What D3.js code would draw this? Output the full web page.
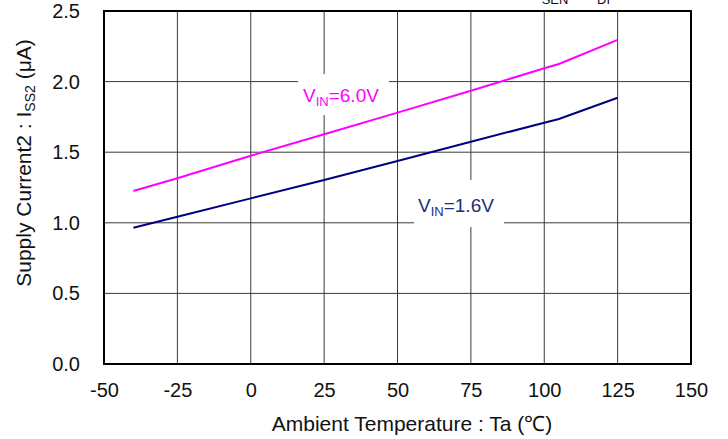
<!DOCTYPE html>
<html>
<head>
<meta charset="utf-8">
<script src="https://cdn.jsdelivr.net/npm/d3@7"></script>
<style>
  html, body { margin: 0; padding: 0; background: #fff; }
  svg { display: block; font-family: "Liberation Sans", Arial, sans-serif; }
</style>
</head>
<body>
<div id="chart"></div>
<script>
// measured points (deg C / uA)
var temps = [-40, -25, 0, 25, 50, 75, 100, 105, 125];
var iss_6v0 = [1.225, 1.315, 1.475, 1.627, 1.78, 1.935, 2.094, 2.125, 2.295];
var iss_1v6 = [0.965, 1.043, 1.173, 1.303, 1.438, 1.574, 1.709, 1.735, 1.886];

var xTicks = [-50, -25, 0, 25, 50, 75, 100, 125, 150];
var yTicks = [0, 0.5, 1.0, 1.5, 2.0, 2.5];

var width = 728, height = 439;
var margin = { top: 11, right: 37, bottom: 75, left: 104 };
var w = width - margin.left - margin.right,
	h = height - margin.top - margin.bottom;

var svg = d3.select("#chart").append("svg")
	.attr("width", width)
	.attr("height", height);

var g = svg.append("g")
	.attr("transform", "translate(" + margin.left + "," + margin.top + ")");

var x = d3.scaleLinear().domain([-50, 150]).range([0, w]);
var y = d3.scaleLinear().domain([0, 2.5]).range([h, 0]);

// grid
g.append("g").selectAll("line.vg")
	.data(xTicks.slice(1, -1))
	.enter().append("line")
	.attr("x1", function (d) { return x(d); })
	.attr("x2", function (d) { return x(d); })
	.attr("y1", 0).attr("y2", h)
	.attr("stroke", "#3a3a3a").attr("stroke-width", 1);

g.append("g").selectAll("line.hg")
	.data(yTicks.slice(1, -1))
	.enter().append("line")
	.attr("y1", function (d) { return y(d); })
	.attr("y2", function (d) { return y(d); })
	.attr("x1", 0).attr("x2", w)
	.attr("stroke", "#3a3a3a").attr("stroke-width", 1);

// axes (labels only, frame drawn below)
var xAxis = g.append("g")
	.attr("transform", "translate(0," + h + ")")
	.call(d3.axisBottom(x).tickValues(xTicks).tickSize(0).tickPadding(18.5)
		.tickFormat(function (d) { return String(d); }));
var yAxis = g.append("g")
	.call(d3.axisLeft(y).tickValues(yTicks).tickSize(0).tickPadding(24).tickFormat(d3.format(".1f")));

[xAxis, yAxis].forEach(function (a) {
	a.select(".domain").remove();
	a.selectAll("text")
		.attr("font-family", "Liberation Sans, Arial, sans-serif")
		.attr("font-size", 20)
		.attr("fill", "#111");
});

// series labels with white boxes over the grid
function seriesLabel(bx, by, bw, bh, tx, ty, val, color) {
	g.append("rect")
		.attr("x", bx - margin.left).attr("y", by - margin.top)
		.attr("width", bw).attr("height", bh)
		.attr("fill", "#fff");
	var t = g.append("text")
		.attr("x", tx - margin.left).attr("y", ty - margin.top)
		.attr("fill", color)
		.attr("font-size", 19);
	t.append("tspan").text("V");
	t.append("tspan").attr("font-size", 13).attr("dy", 4).text("IN");
	t.append("tspan").attr("dy", -4).text("=" + val);
}
seriesLabel(298, 74, 91, 41, 303, 102, "6.0V", "#ff00ff");
seriesLabel(414, 180, 90, 47, 418, 212, "1.6V", "#1a2f78");

var line = d3.line()
	.x(function (d) { return x(d[0]); })
	.y(function (d) { return y(d[1]); });

g.append("path")
	.datum(d3.zip(temps, iss_6v0))
	.attr("d", line)
	.attr("fill", "none")
	.attr("stroke", "#ff00ff")
	.attr("stroke-width", 2);

g.append("path")
	.datum(d3.zip(temps, iss_1v6))
	.attr("d", line)
	.attr("fill", "none")
	.attr("stroke", "#000080")
	.attr("stroke-width", 2);

// frame
g.append("rect")
	.attr("width", w).attr("height", h)
	.attr("fill", "none")
	.attr("stroke", "#000")
	.attr("stroke-width", 2);

// axis titles
svg.append("text")
	.attr("x", 412)
	.attr("y", 431)
	.attr("text-anchor", "middle")
	.attr("font-size", 21)
	.attr("fill", "#111")
	.text("Ambient Temperature : Ta (\u2103)");

var yt = svg.append("text")
	.attr("transform", "translate(31," + 163 + ") rotate(-90)")
	.attr("text-anchor", "middle")
	.attr("font-size", 21)
	.attr("fill", "#111");
yt.append("tspan").text("Supply Current2 : I");
yt.append("tspan").attr("font-size", 14).attr("dy", 4).text("SS2");
yt.append("tspan").attr("dy", -4).text(" (\u03bcA)");

// condition note, mostly cut off at top edge
var note = svg.append("text")
	.attr("y", -2)
	.attr("font-size", 19)
	.attr("fill", "#111");
note.append("tspan").attr("x", 529).text("V");
note.append("tspan").attr("font-size", 13).attr("dy", 6).text("SEN");
note.append("tspan").attr("dy", -6).text("=V");
note.append("tspan").attr("x", 597).attr("font-size", 13).attr("dy", 6).text("DI");
</script>
</body>
</html>
